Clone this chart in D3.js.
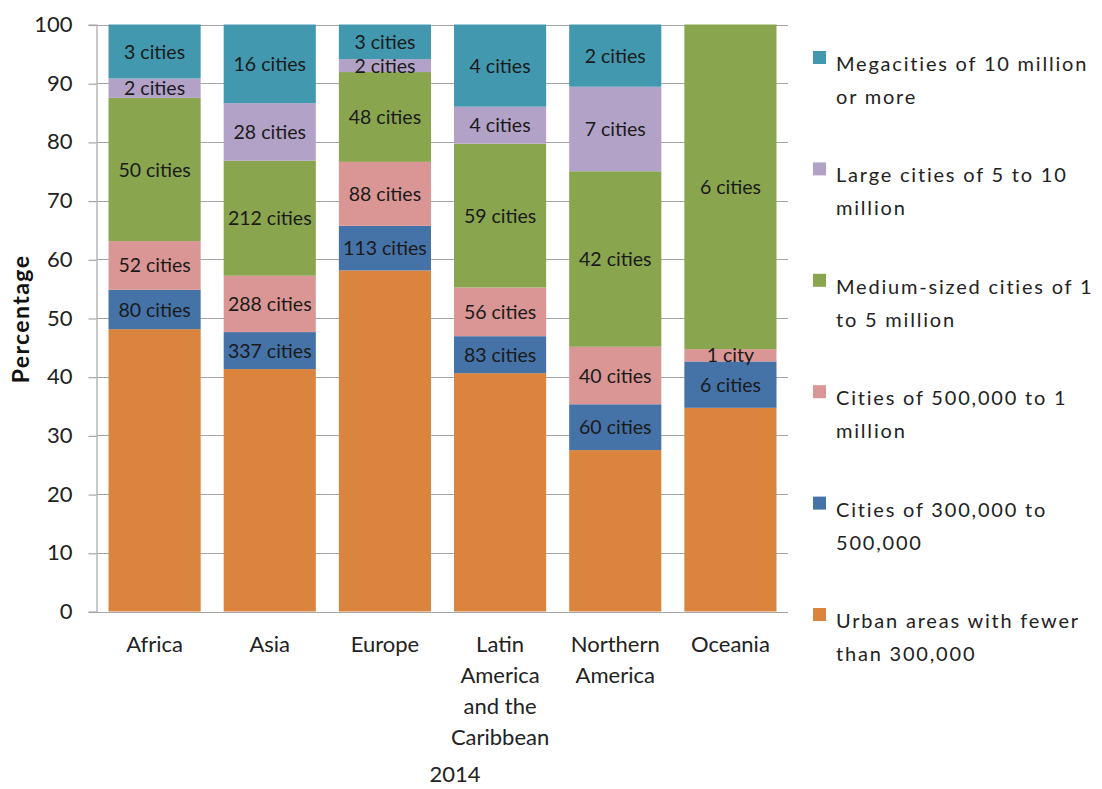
<!DOCTYPE html>
<html>
<head>
<meta charset="utf-8">
<script src="https://cdn.jsdelivr.net/npm/d3@7/dist/d3.min.js"></script>
<style>
  html, body { margin: 0; padding: 0; background: #fff; }
  svg { display: block; font-family: Lato, "Open Sans", sans-serif; }
</style>
</head>
<body>
<svg id="chart" width="1102" height="789"></svg>
<script>
// Regions along the x axis (each entry is the wrapped label lines)
const regions = ["Africa", "Asia", "Europe", "Latin America and the Caribbean", "Northern America", "Oceania"];
const regionLines = [["Africa"], ["Asia"], ["Europe"], ["Latin", "America", "and the", "Caribbean"], ["Northern", "America"], ["Oceania"]];

// Share of urban population (%) by city size class, 2014
const under300k   = [48.1, 41.3, 58.1, 40.6, 27.5, 34.7];
const from300kTo500k = [6.7, 6.3, 7.6, 6.3, 7.8, 7.9];
const from500kTo1m = [8.3, 9.6, 10.9, 8.3, 9.8, 2.1];
const from1mTo5m  = [24.4, 19.6, 15.3, 24.5, 29.9, 55.3];
const from5mTo10m = [3.3, 9.8, 2.2, 6.3, 14.4, 0];
const over10m     = [9.2, 13.4, 5.9, 14.0, 10.6, 0];

// Number of cities in each class (no count for the smallest class)
const count300kTo500k = [80, 337, 113, 83, 60, 6];
const count500kTo1m   = [52, 288, 88, 56, 40, 1];
const count1mTo5m     = [50, 212, 48, 59, 42, 6];
const count5mTo10m    = [2, 28, 2, 4, 7, null];
const countOver10m    = [3, 16, 3, 4, 2, null];

const yTicks = [0, 10, 20, 30, 40, 50, 60, 70, 80, 90, 100];

// Series listed bottom-to-top in the stack
const series = [
  { key: "u300", name: ["Urban areas with fewer", "than 300,000"], values: under300k, counts: null, color: "#DB843D" },
  { key: "c300", name: ["Cities of 300,000 to", "500,000"], values: from300kTo500k, counts: count300kTo500k, color: "#4572A7" },
  { key: "c500", name: ["Cities of 500,000 to 1", "million"], values: from500kTo1m, counts: count500kTo1m, color: "#DA9694" },
  { key: "c1m", name: ["Medium-sized cities of 1", "to 5 million"], values: from1mTo5m, counts: count1mTo5m, color: "#89A54E" },
  { key: "c5m", name: ["Large cities of 5 to 10", "million"], values: from5mTo10m, counts: count5mTo10m, color: "#B3A2C7" },
  { key: "c10m", name: ["Megacities of 10 million", "or more"], values: over10m, counts: countOver10m, color: "#4298AF" }
];

const table = regions.map((r, i) => {
  const row = { region: r };
  series.forEach(s => { row[s.key] = s.values[i]; });
  return row;
});

const svg = d3.select("#chart");
const plot = { left: 97, right: 788, top: 24.5, bottom: 611.5 };

const x = d3.scaleBand().domain(regions).range([plot.left, plot.right]).paddingInner(0.2).paddingOuter(0.1);
const y = d3.scaleLinear().domain([0, 100]).range([plot.bottom, plot.top]);

// Gridlines
svg.append("g")
  .selectAll("line").data(yTicks).join("line")
  .attr("x1", plot.left).attr("x2", plot.right)
  .attr("y1", d => Math.round(y(d)) + 0.5).attr("y2", d => Math.round(y(d)) + 0.5)
  .attr("stroke", "#A6A6A6").attr("stroke-width", 1.2);

// Y axis
const yAxis = svg.append("g")
  .attr("transform", `translate(${plot.left - 0.5},0)`)
  .call(d3.axisLeft(y).tickValues(yTicks).tickSize(8).tickPadding(16));
yAxis.select(".domain").attr("stroke", "#A6A6A6").attr("stroke-width", 1.2);
yAxis.selectAll(".tick line").attr("stroke", "#A6A6A6").attr("stroke-width", 1.2)
  .attr("transform", "translate(0,0.5)");
yAxis.selectAll(".tick text").attr("font-size", 22).attr("fill", "#222")
  .attr("font-family", "Lato, sans-serif");

// Stacked bars
const stack = d3.stack().keys(series.map(s => s.key));
const stacked = stack(table);

const layers = svg.append("g").selectAll("g").data(stacked).join("g")
  .attr("fill", (d, i) => series[i].color);

layers.selectAll("rect").data(d => d).join("rect")
  .attr("x", d => x(d.data.region))
  .attr("width", x.bandwidth())
  .attr("y", d => y(d[1]))
  .attr("height", d => Math.max(0, y(d[0]) - y(d[1])));

// Count labels centered in their segments
stacked.forEach((layer, si) => {
  const s = series[si];
  if (!s.counts) return;
  svg.append("g").selectAll("text").data(layer).join("text")
    .filter((d, i) => s.counts[i] != null)
    .attr("x", d => x(d.data.region) + x.bandwidth() / 2)
    .attr("y", d => (y(d[0]) + y(d[1])) / 2)
    .attr("dy", "0.36em")
    .attr("text-anchor", "middle")
    .attr("font-size", 19.5)
    .attr("fill", "#1a1a1a")
    .text((d, i) => {
      const c = s.counts[regions.indexOf(d.data.region)];
      return c === 1 ? "1 city" : c + " cities";
    });
});

// X axis baseline
svg.append("line")
  .attr("x1", plot.left - 1).attr("x2", plot.right)
  .attr("y1", Math.round(plot.bottom) + 0.5).attr("y2", Math.round(plot.bottom) + 0.5)
  .attr("stroke", "#A6A6A6").attr("stroke-width", 1.2);

// Category labels (wrapped)
const xLab = svg.append("g").selectAll("text").data(regions).join("text")
  .attr("x", d => x(d) + x.bandwidth() / 2)
  .attr("y", 652)
  .attr("text-anchor", "middle")
  .attr("font-size", 22)
  .attr("fill", "#222");
xLab.each(function(d, i) {
  d3.select(this).selectAll("tspan").data(regionLines[i]).join("tspan")
    .attr("x", x(d) + x.bandwidth() / 2)
    .attr("dy", (t, j) => j === 0 ? 0 : 31)
    .text(t => t);
});

// X axis title
svg.append("text")
  .attr("x", 455)
  .attr("y", 782)
  .attr("text-anchor", "middle")
  .attr("font-size", 22)
  .attr("fill", "#222")
  .text("2014");

// Y axis title
svg.append("text")
  .attr("transform", `translate(29,319) rotate(-90)`)
  .attr("text-anchor", "middle")
  .attr("font-size", 23)
  .attr("font-weight", "bold")
  .attr("letter-spacing", 1.4)
  .attr("fill", "#111")
  .text("Percentage");

// Legend, top-to-bottom from the largest class
const legendItems = series.slice().reverse();
const legend = svg.append("g").selectAll("g").data(legendItems).join("g")
  .attr("transform", (d, i) => `translate(813,${64 + i * 111.4})`);
legend.append("rect")
  .attr("x", 0).attr("y", -13).attr("width", 13).attr("height", 13)
  .attr("fill", d => d.color);
legend.append("text")
  .attr("font-size", 20)
  .attr("letter-spacing", 1.8)
  .attr("fill", "#222")
  .each(function(d) {
    d3.select(this).selectAll("tspan").data(d.name).join("tspan")
      .attr("x", 23)
      .attr("y", (t, j) => 7 + j * 33)
      .text(t => t);
  });
</script>
</body>
</html>
